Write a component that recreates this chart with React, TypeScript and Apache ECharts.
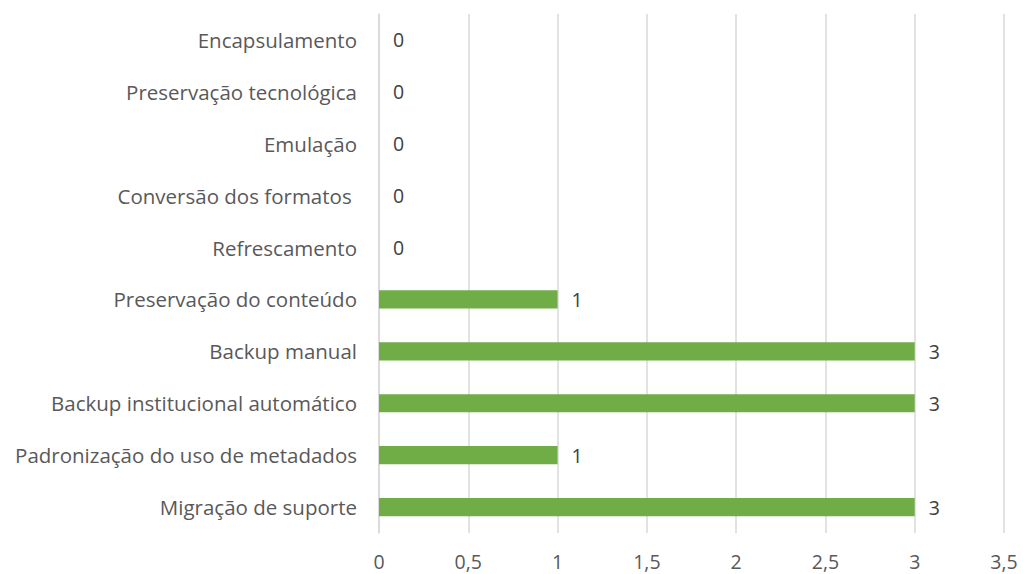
import React, { useEffect, useRef } from "react";
import * as echarts from "echarts";

const categories = [
  "Migração de suporte",
  "Padronização do uso de metadados",
  "Backup institucional automático",
  "Backup manual",
  "Preservação do conteúdo",
  "Refrescamento",
  "Conversão dos formatos ",
  "Emulação",
  "Preservação tecnológica",
  "Encapsulamento",
];
const values = [3, 1, 3, 3, 1, 0, 0, 0, 0, 0];
const xMin = 0;
const xMax = 3.5;
const xInterval = 0.5;

export default function App() {
  const ref = useRef<HTMLDivElement>(null);
  useEffect(() => {
    if (!ref.current) return;
    const chart = echarts.init(ref.current, undefined, { renderer: "svg" });
    const font = "'Open Sans', 'Noto Sans', sans-serif";
    chart.setOption({
      animation: false,
      grid: { left: 379, right: 19, top: 14, bottom: 41, containLabel: false },
      xAxis: {
        type: "value",
        min: xMin,
        max: xMax,
        interval: xInterval,
        axisLine: { show: false },
        axisTick: { show: false },
        splitLine: { show: true, lineStyle: { color: "#d9d9d9", width: 1.5 } },
        axisLabel: {
          color: "#595959",
          fontFamily: font,
          fontSize: 19.5,
          margin: 18,
          formatter: (v: number) => String(v).replace(".", ","),
        },
      },
      yAxis: {
        type: "category",
        data: categories,
        axisLine: { show: true, lineStyle: { color: "#d9d9d9", width: 1.5 } },
        axisTick: { show: false },
        axisLabel: {
          color: "#595959",
          fontFamily: font,
          fontSize: 20.5,
          margin: 22,
        },
      },
      series: [
        {
          type: "bar",
          data: values,
          barWidth: "35%",
          itemStyle: { color: "#70ad47" },
          label: {
            show: true,
            position: "right",
            distance: 14,
            color: "#404040",
            fontFamily: font,
            fontSize: 19.5,
          },
        },
      ],
    });
    return () => chart.dispose();
  }, []);
  return (
    <div
      ref={ref}
      style={{ position: "fixed", left: 0, top: 0, width: 1023, height: 574, background: "#fff" }}
    />
  );
}
